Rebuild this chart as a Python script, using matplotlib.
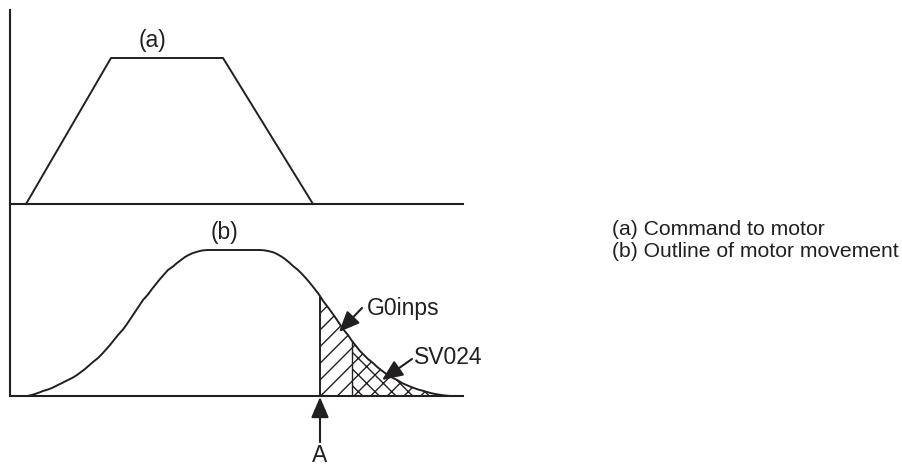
import matplotlib
matplotlib.use("Agg")
import matplotlib.pyplot as plt
import numpy as np

plt.rcParams["font.family"] = ["Liberation Sans", "DejaVu Sans"]
plt.rcParams["hatch.linewidth"] = 1.0

INK = "#231f20"
FS_LEGEND = 15.2
FS_LABEL = 16.5

# (a) command to motor: trapezoid (time, speed)
cmd_t = [16, 101, 213, 303]
cmd_v = [0, 146, 146, 0]

# (b) outline of motor movement
mov_t = [17, 21, 25, 29, 33, 38, 42, 46, 50, 54, 58, 63, 67, 71, 75, 79, 83,
         88, 92, 96, 100, 104, 108, 113, 117, 121, 125, 129, 133, 138, 142,
         146, 150, 154, 158, 163, 167, 171, 175, 179, 183, 188, 192, 196, 200,
         250, 254, 258, 263, 267, 271, 275, 279, 283, 288, 292, 296, 300, 305,
         310, 313, 317, 321, 325, 329, 333, 338, 342, 346, 350, 354, 358, 363,
         367, 371, 375, 379, 383, 388, 392, 396, 400, 404, 408, 413, 417, 421,
         425, 430, 435, 440]
mov_v = [0, 0.8, 2, 3.4, 5, 6.5, 8, 10, 12, 14, 16, 18.5, 21, 24, 27, 30.5, 34,
         38, 42, 46.5, 51, 56, 61, 66.5, 72, 78, 84, 90, 96, 101.5, 107,
         112, 117, 121.5, 126, 129.5, 133, 136, 139, 141.2, 143, 144.5, 145.5, 145.9, 146,
         146, 145.7, 145, 143.8, 142, 139.7, 137, 133.7, 130, 126, 122, 117.7, 113, 106.7,
         100, 95.2, 90, 84.6, 79, 73, 67, 61, 55, 50, 45, 41, 37, 33,
         29.2, 26, 23, 20.4, 18, 15.5, 13, 11.2, 9.5, 8, 6.5, 5.2, 4, 2.9,
         2, 1.2, 0.5, 0]

T_A = 310       # point A
T_SPLIT = 342   # boundary between G0inps and SV024 zones
T_END = 453

labels = ["(a) Command to motor", "(b) Outline of motor movement"]

fig = plt.figure(figsize=(9.03, 4.68), dpi=100)
W, H = 903, 468
ax_a = fig.add_axes([10 / W, 1 - 204 / H, 453 / W, 194 / H])
ax_b = fig.add_axes([10 / W, 1 - 396 / H, 453 / W, 192 / H])

for ax, ymax in ((ax_a, 194), (ax_b, 192)):
    ax.set_xlim(0, T_END)
    ax.set_ylim(0, ymax)
    ax.set_xticks([])
    ax.set_yticks([])
    for s in ("top", "right"):
        ax.spines[s].set_visible(False)
    for s in ("left", "bottom"):
        ax.spines[s].set_linewidth(1.5)
        ax.spines[s].set_color(INK)
    ax.patch.set_alpha(0)

# top panel
ax_a.plot(cmd_t, cmd_v, color=INK, lw=1.4, clip_on=False)
ax_a.text(143, 164, "(a)", fontsize=FS_LABEL, ha="center", va="center", color=INK)

# bottom panel
t = np.array(mov_t, dtype=float)
v = np.array(mov_v, dtype=float)
ax_b.plot(t, v, color=INK, lw=1.4, solid_joinstyle="round")

m1 = (t >= T_A) & (t <= T_SPLIT)
m2 = t >= T_SPLIT
ax_b.fill_between(t[m1], 0, v[m1], facecolor="none", edgecolor=INK,
                  hatch="//", lw=0)
ax_b.fill_between(t[m2], 0, v[m2], facecolor="none", edgecolor=INK,
                  hatch="xx", lw=0)
ax_b.vlines([T_A], 0, v[t == T_A], color=INK, lw=1.4)
ax_b.vlines([T_SPLIT], 0, v[t == T_SPLIT], color=INK, lw=1.0)
ax_b.text(215, 164, "(b)", fontsize=FS_LABEL, ha="center", va="center", color=INK)

head = dict(arrowstyle="-|>,head_length=0.7,head_width=0.3", color=INK,
            lw=1.5, mutation_scale=18, shrinkA=0, shrinkB=0)
ax_b.annotate("", xy=(329, 64), xytext=(352, 88), arrowprops=head)
ax_b.text(357, 87, "G0inps", fontsize=FS_LABEL, ha="left", va="center", color=INK)
ax_b.annotate("", xy=(372, 16), xytext=(402, 37), arrowprops=head)
ax_b.text(404, 39, "SV024", fontsize=FS_LABEL, ha="left", va="center", color=INK)

ax_b.annotate("", xy=(T_A, -1), xytext=(T_A, -46), arrowprops=head,
              annotation_clip=False)
ax_b.text(T_A, -59, "A", fontsize=FS_LABEL, ha="center", va="center", color=INK,
          clip_on=False)

# legend text
for i, lab in enumerate(labels):
    fig.text(612 / W, 1 - (235 + 22 * i) / H, lab, fontsize=FS_LEGEND,
             ha="left", va="baseline", color=INK)

fig.savefig("out.png", dpi=100)
